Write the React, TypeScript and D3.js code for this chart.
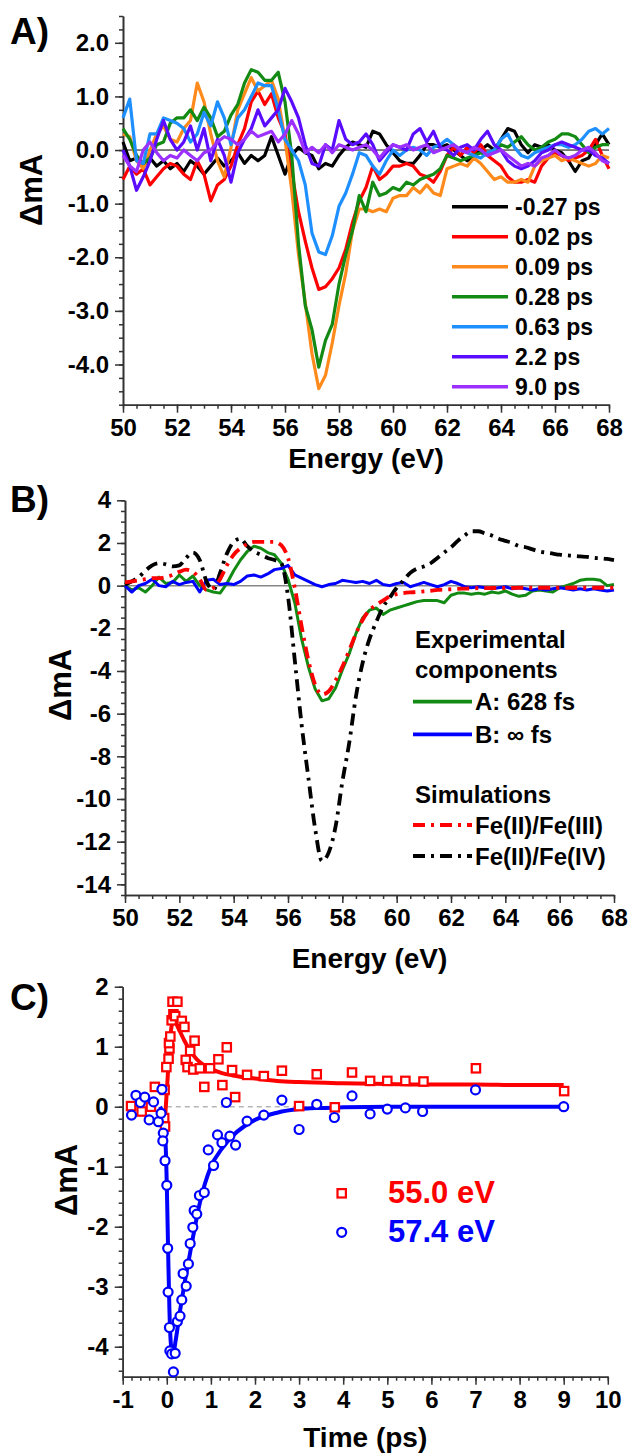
import React, { useEffect, useRef } from "react";
import * as d3 from "d3";

// energy grid (eV) shared by panels A and B
const energy = [
  50, 50.25, 50.5, 50.75, 51, 51.25, 51.5, 51.75, 52, 52.25, 52.5, 52.75,
  53, 53.25, 53.5, 53.75, 54, 54.25, 54.5, 54.75, 55, 55.25, 55.5, 55.75,
  56, 56.25, 56.5, 56.75, 57, 57.25, 57.5, 57.75, 58, 58.25, 58.5, 58.75,
  59, 59.25, 59.5, 59.75, 60, 60.25, 60.5, 60.75, 61, 61.25, 61.5, 61.75,
  62, 62.25, 62.5, 62.75, 63, 63.25, 63.5, 63.75, 64, 64.25, 64.5, 64.75,
  65, 65.25, 65.5, 65.75, 66, 66.25, 66.5, 66.75, 67, 67.25, 67.5, 67.75, 68,
];

// ---- panel A: transient spectra (mOD) ----
const delayLabels = ["-0.27 ps", "0.02 ps", "0.09 ps", "0.28 ps", "0.63 ps", "2.2 ps", "9.0 ps"];
const delayColors = ["#000000", "#ff0000", "#ff8a1c", "#138a13", "#1e8fff", "#5a0cff", "#9b30ff"];

const specM027 = [
  0.15, -0.2, -0.15, -0.3, -0.15, -0.3, -0.2, -0.35, -0.25, -0.4, -0.2, -0.3,
  -0.45, -0.3, -0.15, -0.3, -0.2, -0.05, -0.25, -0.1, -0.2, -0.1, 0.25, -0.1,
  -0.45, -0.1, 0.05, -0.05, -0.1, -0.35, -0.25, -0.3, -0.1, 0.05, 0.15, 0.1,
  0.05, 0.35, 0.3, 0.1, -0.05, -0.2, -0.25, -0.25, -0.1, 0.1, 0.1, 0.05,
  0.1, 0.0, -0.1, -0.2, -0.1, 0.0, 0.1, 0.0, 0.2, 0.4, 0.35, 0.1,
  -0.05, 0.1, 0.05, 0.1, 0.0, -0.05, -0.2, -0.4, -0.2, -0.15, 0.1, 0.3, 0.1,
];
const spec002 = [
  -0.55, -0.3, -0.45, -0.35, -0.65, -0.5, -0.35, -0.25, -0.3, -0.45, -0.55, -0.2,
  -0.45, -0.95, -0.65, -0.55, -0.3, 0.1, 0.4, 0.9, 1.1, 0.85, 1.05, 0.6,
  0.3, -0.4, -1.15, -1.7, -2.2, -2.6, -2.55, -2.4, -2.2, -1.85, -1.35, -0.95,
  -0.7, -0.3, -0.55, -0.45, -0.3, -0.3, -0.25, -0.3, -0.45, -0.5, -0.6, -0.4,
  -0.1, 0.05, -0.1, 0.05, -0.05, 0.1, -0.1, -0.2, -0.3, -0.5, -0.6, -0.6,
  -0.55, -0.6, -0.3, -0.15, -0.05, -0.1, -0.2, -0.15, -0.1, 0.0, 0.2, -0.1, -0.35,
];
const spec009 = [
  0.3, 0.25, -0.2, -0.35, 0.0, 0.3, 0.45, 0.2, 0.15, 0.4, 0.55, 1.25,
  0.9, 0.3, -0.2, -0.5, 0.05, 0.75, 1.05, 1.35, 1.1, 1.2, 1.3, 0.95,
  0.2, -0.75, -1.95, -2.85, -3.8, -4.45, -4.2, -3.6, -2.9, -2.3, -1.5, -1.1,
  -1.1, -1.15, -1.1, -1.15, -0.9, -0.85, -0.85, -0.7, -0.8, -0.65, -0.8, -0.85,
  -0.35, -0.3, -0.25, -0.3, -0.15, -0.25, -0.4, -0.55, -0.5, -0.6, -0.6, -0.55,
  -0.6, -0.3, -0.2, -0.15, -0.1, -0.2, -0.15, -0.2, -0.25, -0.3, -0.25, -0.1, -0.15,
];
const spec028 = [
  0.4, 0.2, -0.1, -0.25, -0.15, 0.1, 0.15, 0.5, 0.6, 0.6, 0.75, 0.55,
  0.8, 0.6, 0.25, 0.35, 0.65, 0.85, 1.25, 1.5, 1.45, 1.3, 1.3, 1.45,
  0.9, -0.1, -1.75, -2.9, -3.35, -4.05, -3.55, -3.25, -2.5, -1.95, -1.5, -0.85,
  -1.15, -0.6, -0.85, -0.8, -0.7, -0.75, -0.6, -0.65, -0.55, -0.5, -0.45, -0.35,
  -0.1, -0.15, -0.2, -0.15, -0.1, -0.05, -0.1, 0.0, 0.1, 0.05, 0.15, 0.25,
  0.1, 0.0, 0.05, 0.15, 0.2, 0.3, 0.3, 0.25, 0.1, -0.05, 0.05, 0.1, 0.1,
];
const spec063 = [
  0.6, 0.95, -0.2, -0.25, 0.3, 0.3, 0.6, 0.55, 0.5, 0.4, 0.15, 0.3,
  0.7, 0.45, 0.9, 0.6, 0.1, 0.6, 0.75, 1.0, 1.25, 1.2, 1.2, 0.75,
  0.2, 0.0, -0.2, -0.65, -1.55, -1.9, -1.95, -1.6, -1.05, -0.8, -0.45, -0.05,
  -0.1, -0.3, -0.45, -0.2, 0.0, -0.1, 0.0, 0.05, 0.0, -0.1, 0.05, 0.1,
  0.2, 0.1, 0.0, -0.05, -0.1, -0.15, -0.05, 0.0, 0.2, 0.3, 0.05, -0.1,
  -0.15, -0.05, 0.0, 0.05, 0.1, 0.1, 0.05, 0.1, 0.2, 0.35, 0.4, 0.3, 0.4,
];
const spec22 = [
  0.0, -0.3, -0.75, -0.5, -0.2, 0.2, 0.55, 0.2, 0.0, 0.15, 0.45, 0.0,
  0.4, -0.2, 0.2, -0.1, -0.6, -0.05, 0.2, 0.4, 0.75, 0.45, 0.6, 0.75,
  1.15, 0.9, 0.6, 0.1, -0.25, -0.3, 0.1, 0.0, 0.55, 0.2, 0.1, 0.15,
  0.3, 0.1, -0.2, -0.05, 0.1, 0.05, 0.0, 0.3, 0.4, 0.15, 0.35, 0.05,
  0.0, -0.1, 0.05, 0.1, 0.0, 0.2, 0.35, 0.1, 0.0, -0.2, -0.3, -0.35,
  -0.3, -0.2, -0.05, 0.0, 0.1, 0.15, 0.1, 0.05, 0.0, 0.0, -0.1, -0.15, -0.25,
];
const spec90 = [
  -0.1, -0.3, -0.4, 0.0, 0.15, -0.05, -0.2, -0.1, -0.15, 0.0, -0.1, -0.2,
  -0.05, 0.0, 0.15, 0.25, 0.2, 0.1, 0.2, 0.35, 0.25, 0.3, 0.35, 0.15,
  0.3, 0.55, 0.3, -0.05, 0.05, -0.05, 0.1, -0.05, 0.1, 0.05, 0.0, 0.05,
  0.1, 0.0, -0.15, 0.0, 0.1, 0.05, 0.1, 0.0, 0.05, 0.1, -0.05, 0.0,
  0.05, 0.1, 0.0, -0.05, 0.05, 0.0, -0.1, -0.05, 0.0, -0.1, -0.2, -0.3,
  -0.25, -0.3, -0.15, -0.1, 0.0, -0.1, -0.15, -0.1, 0.0, 0.05, -0.05, -0.2, -0.25,
];
const spectraA = [specM027, spec002, spec009, spec028, spec063, spec22, spec90];

// ---- panel B: decay-associated components and simulations ----
const compA628 = [
  0.0, -0.2, -0.1, -0.3, 0.0, 0.4, 0.1, 0.15, 0.5, 0.2, 0.45, 0.0,
  -0.2, -0.3, -0.35, 0.1, 0.7, 1.2, 1.6, 1.85, 1.75, 1.55, 1.45, 1.05,
  0.3, -0.8, -2.5, -3.8, -4.85, -5.4, -5.3, -4.8, -3.95, -3.2, -2.25, -1.5,
  -1.15, -1.05, -1.35, -1.15, -1.05, -0.95, -0.85, -0.75, -0.7, -0.7, -0.7, -0.8,
  -0.45, -0.35, -0.35, -0.4, -0.35, -0.4, -0.3, -0.35, -0.25, -0.4, -0.5, -0.45,
  -0.25, -0.2, -0.25, -0.3, -0.1, 0.0, 0.1, 0.25, 0.3, 0.3, 0.25, 0.0, 0.05,
];
const compBinf = [
  0.0, -0.3, 0.0, 0.1, 0.3, 0.0, -0.05, 0.2, 0.05, 0.15, 0.2, -0.3,
  0.25, 0.3, 0.05, 0.1, 0.05, 0.2, 0.45, 0.5, 0.4, 0.55, 0.75, 0.8,
  0.95, 0.5, 0.35, 0.2, 0.05, -0.05, 0.05, 0.1, 0.25, 0.2, 0.15, 0.2,
  0.1, 0.25, 0.05, 0.0, 0.1, 0.15, -0.05, 0.05, 0.15, 0.05, -0.05, 0.05,
  0.2, 0.1, -0.05, -0.1, -0.05, -0.1, -0.15, -0.1, -0.05, -0.15, -0.1, -0.15,
  -0.2, -0.15, -0.2, -0.15, -0.1, -0.15, -0.2, -0.15, -0.2, -0.15, -0.2, -0.25, -0.2,
];
const simFe23 = [
  0.15, 0.2, 0.25, 0.3, 0.35, 0.35, 0.4, 0.5, 0.65, 0.75, 0.65, 0.3,
  -0.2, -0.1, 0.3, 0.95, 1.45, 1.75, 1.95, 2.05, 2.05, 2.05, 2.05, 1.9,
  1.3, -0.1, -1.9, -3.5, -4.65, -5.1, -4.95, -4.45, -3.8, -3.05, -2.25, -1.6,
  -1.15, -0.9, -0.7, -0.5, -0.4, -0.35, -0.32, -0.3, -0.27, -0.24, -0.2, -0.18,
  -0.17, -0.15, -0.14, -0.13, -0.12, -0.12, -0.11, -0.11, -0.11, -0.11, -0.1, -0.1,
  -0.1, -0.1, -0.1, -0.1, -0.1, -0.1, -0.1, -0.1, -0.1, -0.1, -0.1, -0.1, -0.1,
];
const simFe24 = [
  0.05, 0.2, 0.4, 0.7, 0.95, 1.05, 1.0, 0.9, 0.95, 1.3, 1.55, 1.2,
  0.2, -0.2, 0.6, 1.5, 2.05, 2.2, 1.85, 1.6, 1.45, 1.3, 1.2, 1.05,
  -0.5, -3.5, -6.5, -9.0, -11.4, -12.9, -12.5, -11.3, -9.2, -7.4, -5.2, -3.6,
  -2.5, -1.7, -1.0, -0.55, -0.1, 0.25, 0.6, 0.8, 0.9, 1.05, 1.3, 1.55,
  1.8, 2.1, 2.35, 2.55, 2.55, 2.45, 2.35, 2.2, 2.1, 2.0, 1.85, 1.8,
  1.7, 1.6, 1.55, 1.5, 1.45, 1.42, 1.4, 1.37, 1.35, 1.3, 1.28, 1.25, 1.2,
];

// ---- panel C: kinetics ----
const t550 = [
  -0.81, -0.57, -0.36, -0.27, -0.05, -0.06, -0.04, -0.01, 0.04, 0.06, 0.05, 0.08,
  0.11, 0.15, 0.13, 0.24, 0.19, 0.34, 0.4, 0.63, 0.53, 0.43, 0.47, 0.6,
  0.75, 0.85, 0.98, 1.17, 1.26, 1.36, 1.48, 1.55, 1.82, 2.2, 2.61, 3.0,
  3.4, 3.81, 4.2, 4.61, 5.0, 5.41, 5.82, 7.01, 9.01,
];
const dA550 = [
  0.01, -0.08, 0.0, 0.33, 0.28, -0.19, -0.33, 0.66, 0.8, 0.97, 1.06, 1.17,
  1.44, 1.54, 1.75, 1.75, 1.51, 1.43, 1.33, 1.1, 0.93, 0.78, 0.66, 0.62,
  0.64, 0.33, 0.64, 0.79, 0.36, 0.99, 0.61, 0.16, 0.53, 0.51, 0.6, 0.01,
  0.54, -0.01, 0.57, 0.43, 0.43, 0.43, 0.42, 0.64, 0.26,
];
const t574 = [
  -0.8, -0.7, -0.6, -0.5, -0.4, -0.3, -0.19, -0.13, -0.11, -0.08, -0.09, -0.04,
  0.0, 0.02, 0.03, 0.06, 0.07, 0.11, 0.15, 0.19, 0.24, 0.3, 0.34, 0.37,
  0.44, 0.49, 0.53, 0.59, 0.62, 0.68, 0.74, 0.85, 0.94, 1.06, 1.15, 1.25,
  1.35, 1.43, 1.56, 1.82, 2.2, 2.61, 3.0, 3.4, 3.8, 4.2, 4.61, 5.0,
  5.41, 5.8, 7.0, 9.0,
];
const dA574 = [
  -0.14, 0.19, 0.07, 0.16, -0.22, 0.08, -0.25, -0.11, 0.29, -0.44, -0.57, -0.9,
  -1.31, -2.36, -3.09, -3.68, -4.07, -4.12, -4.42, -4.11, -3.58, -3.49, -3.22, -2.78,
  -2.99, -2.62, -2.28, -2.01, -1.73, -1.79, -1.48, -1.43, -0.72, -0.98, -0.47, -0.6,
  0.07, -0.49, -0.64, -0.24, -0.14, 0.11, -0.38, 0.04, -0.18, 0.18, -0.12, -0.04,
  -0.02, -0.08, 0.28, 0.0,
];
const fitT550 = [-0.05, 0, 0.05, 0.1, 0.15, 0.2, 0.3, 0.4, 0.5, 0.6, 0.75, 1, 1.25, 1.5, 2, 2.5, 3, 4, 5, 6, 7, 8, 9];
const fit550 = [-0.3, 0.25, 0.85, 1.3, 1.45, 1.4, 1.25, 1.1, 0.97, 0.86, 0.74, 0.63, 0.56, 0.52, 0.47, 0.43, 0.41, 0.39, 0.38, 0.37, 0.37, 0.36, 0.36];
const fitT574 = [-0.15, -0.05, 0, 0.03, 0.06, 0.1, 0.15, 0.2, 0.3, 0.4, 0.5, 0.6, 0.75, 1, 1.25, 1.5, 1.75, 2, 2.5, 3, 3.5, 4, 5, 6, 7, 8, 9];
const fit574 = [0.0, -0.3, -1.3, -2.4, -3.4, -4.0, -4.1, -3.9, -3.4, -2.95, -2.55, -2.15, -1.6, -1.0, -0.7, -0.48, -0.33, -0.22, -0.1, -0.04, -0.02, -0.01, 0, 0, 0, 0, 0];

const FONT = "'Liberation Sans', Arial, sans-serif";
const AXIS = "#333";

type Box = { left: number; right: number; top: number; bottom: number };

function drawAxes(svg: any, x: any, y: any, box: Box, o: any) {
  const mk = (axis: any, tr: string, size: number, vals: number[], fmt: any, pad: number) => {
    const g = svg.append("g").attr("transform", tr)
      .call(axis.tickValues(vals).tickSize(size).tickSizeOuter(0).tickPadding(pad).tickFormat(fmt));
    g.attr("font-family", FONT).attr("font-size", o.font).attr("font-weight", "bold");
    g.selectAll("line").attr("stroke", AXIS).attr("stroke-width", 1.5);
    g.select(".domain").attr("stroke", AXIS).attr("stroke-width", 1.6);
    g.selectAll("text").attr("fill", "#000");
    return g;
  };
  mk(d3.axisBottom(x), `translate(0,${box.bottom})`, 4, o.xMinor, () => "", 0);
  mk(d3.axisLeft(y), `translate(${box.left},0)`, 4, o.yMinor, () => "", 0);
  mk(d3.axisBottom(x), `translate(0,${box.bottom})`, 8, o.xMajor, o.xFmt, 6);
  mk(d3.axisLeft(y), `translate(${box.left},0)`, 8, o.yMajor, o.yFmt, 6);
}

function label(svg: any, txt: string, x: number, y: number, size: number, anchor = "start", fill = "#000") {
  return svg.append("text").attr("x", x).attr("y", y).text(txt)
    .attr("font-family", FONT).attr("font-weight", "bold").attr("font-size", size)
    .attr("text-anchor", anchor).attr("fill", fill);
}

function yTitle(svg: any, cx: number, cy: number, size: number) {
  svg.append("text").attr("transform", `translate(${cx},${cy}) rotate(-90)`)
    .attr("dy", "0.35em").attr("text-anchor", "middle").text("ΔmA")
    .attr("font-family", FONT).attr("font-weight", "bold").attr("font-size", size);
}

export default function App() {
  const ref = useRef<SVGSVGElement>(null);

  useEffect(() => {
    const svg = d3.select(ref.current);
    svg.selectAll("*").remove();

    // ================= A =================
    const boxA = { left: 123, right: 609, top: 16, bottom: 404.7 };
    const xA = d3.scaleLinear().domain([50, 68]).range([boxA.left, boxA.right]);
    const yA = d3.scaleLinear().domain([-4.75, 2.5]).range([boxA.bottom, boxA.top]);
    drawAxes(svg, xA, yA, boxA, {
      xMajor: d3.range(50, 68.1, 2), xMinor: d3.range(50, 68.1, 0.5),
      yMajor: d3.range(-4, 2.1, 1), yMinor: d3.range(-4.75, 2.51, 0.25),
      xFmt: (d: number) => String(d), yFmt: (d: number) => d.toFixed(1), font: 24,
    });
    svg.append("line").attr("x1", xA(50)).attr("x2", xA(68)).attr("y1", yA(0)).attr("y2", yA(0))
      .attr("stroke", "#000").attr("stroke-width", 1);
    const lineA = d3.line<number>().x((_, i) => xA(energy[i])).y((d) => yA(d));
    spectraA.forEach((s, k) => {
      svg.append("path").attr("d", lineA(s)).attr("fill", "none")
        .attr("stroke", delayColors[k]).attr("stroke-width", 3.2).attr("stroke-linejoin", "round");
    });
    delayLabels.forEach((lab, k) => {
      const ly = 206.7 + 30 * k;
      svg.append("line").attr("x1", 452).attr("x2", 508).attr("y1", ly).attr("y2", ly)
        .attr("stroke", delayColors[k]).attr("stroke-width", 3.5);
      label(svg, lab, 515, ly, 23).attr("dy", "0.36em");
    });
    label(svg, "A)", 10, 44, 37);
    yTitle(svg, 31, 190, 31);
    label(svg, "Energy (eV)", (boxA.left + boxA.right) / 2, 468, 28, "middle");

    // ================= B =================
    const boxB = { left: 125, right: 614, top: 500.3, bottom: 895 };
    const xB = d3.scaleLinear().domain([50, 68]).range([boxB.left, boxB.right]);
    const yB = d3.scaleLinear().domain([-14.5, 4]).range([boxB.bottom, boxB.top]);
    drawAxes(svg, xB, yB, boxB, {
      xMajor: d3.range(50, 68.1, 2), xMinor: d3.range(50, 68.1, 0.5),
      yMajor: d3.range(-14, 4.1, 2), yMinor: d3.range(-14.5, 4.01, 0.5),
      xFmt: (d: number) => String(d), yFmt: (d: number) => String(d), font: 24,
    });
    svg.append("line").attr("x1", xB(50)).attr("x2", xB(68)).attr("y1", yB(0)).attr("y2", yB(0))
      .attr("stroke", "#888").attr("stroke-width", 1.5);
    const lineB = d3.line<number>().x((_, i) => xB(energy[i])).y((d) => yB(d));
    const lineBs = d3.line<number>().x((_, i) => xB(energy[i])).y((d) => yB(d)).curve(d3.curveMonotoneX);
    const bSeries = [
      { d: lineB(compA628), c: "#138a13", w: 3, dash: null },
      { d: lineB(compBinf), c: "#0000ff", w: 3, dash: null },
      { d: lineBs(simFe24), c: "#000000", w: 3.8, dash: "12,6,3,6" },
      { d: lineBs(simFe23), c: "#ff0000", w: 3.8, dash: "12,6,3,6" },
    ];
    bSeries.forEach((s) => {
      svg.append("path").attr("d", s.d).attr("fill", "none").attr("stroke", s.c)
        .attr("stroke-width", s.w).attr("stroke-linejoin", "round")
        .attr("stroke-dasharray", s.dash);
    });
    label(svg, "Experimental", 415, 648, 24);
    label(svg, "components", 415, 678, 24);
    const legB = [
      { y: 701.7, c: "#138a13", dash: null, t: "A: 628 fs" },
      { y: 734.3, c: "#0000ff", dash: null, t: "B: \u221e fs" },
      { y: 825, c: "#ff0000", dash: "12,6,3,6", t: "Fe(II)/Fe(III)" },
      { y: 856, c: "#000000", dash: "12,6,3,6", t: "Fe(II)/Fe(IV)" },
    ];
    legB.forEach((e) => {
      svg.append("line").attr("x1", 413).attr("x2", 472).attr("y1", e.y).attr("y2", e.y)
        .attr("stroke", e.c).attr("stroke-width", 3.8).attr("stroke-dasharray", e.dash);
      label(svg, e.t, 475, e.y, 24).attr("dy", "0.36em");
    });
    label(svg, "Simulations", 415, 803, 24);
    label(svg, "B)", 10, 512, 37);
    yTitle(svg, 60, 685, 31);
    label(svg, "Energy (eV)", (boxB.left + boxB.right) / 2, 968, 28, "middle");

    // ================= C =================
    const boxC = { left: 122.7, right: 607.8, top: 986.7, bottom: 1376.7 };
    const xC = d3.scaleLinear().domain([-1, 10]).range([boxC.left, boxC.right]);
    const yC = d3.scaleLinear().domain([-4.5, 2]).range([boxC.bottom, boxC.top]);
    drawAxes(svg, xC, yC, boxC, {
      xMajor: d3.range(-1, 10.1, 1), xMinor: d3.range(-1, 10.01, 0.2),
      yMajor: d3.range(-4, 2.1, 1), yMinor: d3.range(-4.4, 2.01, 0.2),
      xFmt: (d: number) => String(d), yFmt: (d: number) => String(d), font: 24,
    });
    svg.append("line").attr("x1", xC(0)).attr("x2", xC(9)).attr("y1", yC(0)).attr("y2", yC(0))
      .attr("stroke", "#b5b5b5").attr("stroke-width", 1.5).attr("stroke-dasharray", "5,4");
    const fitLine = (ts: number[]) =>
      d3.line<number>().x((_, i) => xC(ts[i])).y((d) => yC(d)).curve(d3.curveMonotoneX);
    svg.append("path").attr("d", fitLine(fitT550)(fit550)).attr("fill", "none")
      .attr("stroke", "#ff0000").attr("stroke-width", 4);
    svg.append("path").attr("d", fitLine(fitT574)(fit574)).attr("fill", "none")
      .attr("stroke", "#0000ff").attr("stroke-width", 4);
    svg.append("g").selectAll("rect").data(dA550).join("rect")
      .attr("x", (_: number, i: number) => xC(t550[i]) - 4.2)
      .attr("y", (d: number) => yC(d) - 4.2)
      .attr("width", 8.4).attr("height", 8.4)
      .attr("fill", "#fff").attr("stroke", "#ff0000").attr("stroke-width", 2.2);
    svg.append("g").selectAll("circle").data(dA574).join("circle")
      .attr("cx", (_: number, i: number) => xC(t574[i]))
      .attr("cy", (d: number) => yC(d)).attr("r", 4.5)
      .attr("fill", "#fff").attr("stroke", "#0000ff").attr("stroke-width", 2.2);
    // legend
    svg.append("rect").attr("x", 337.5).attr("y", 1189.1).attr("width", 8.4).attr("height", 8.4)
      .attr("fill", "#fff").attr("stroke", "#ff0000").attr("stroke-width", 2.2);
    svg.append("circle").attr("cx", 341.7).attr("cy", 1232.3).attr("r", 4.5)
      .attr("fill", "#fff").attr("stroke", "#0000ff").attr("stroke-width", 2.2);
    label(svg, "55.0 eV", 388, 1203, 31, "start", "#ff0000");
    label(svg, "57.4 eV", 388, 1242, 31, "start", "#0000ff");
    label(svg, "C)", 10, 1010, 37);
    yTitle(svg, 66, 1180, 31);
    label(svg, "Time (ps)", (boxC.left + boxC.right) / 2, 1447, 28, "middle");
  }, []);

  return (
    <svg ref={ref} width={630} height={1455}
      style={{ position: "absolute", left: 0, top: 0, background: "#fff" }} />
  );
}
